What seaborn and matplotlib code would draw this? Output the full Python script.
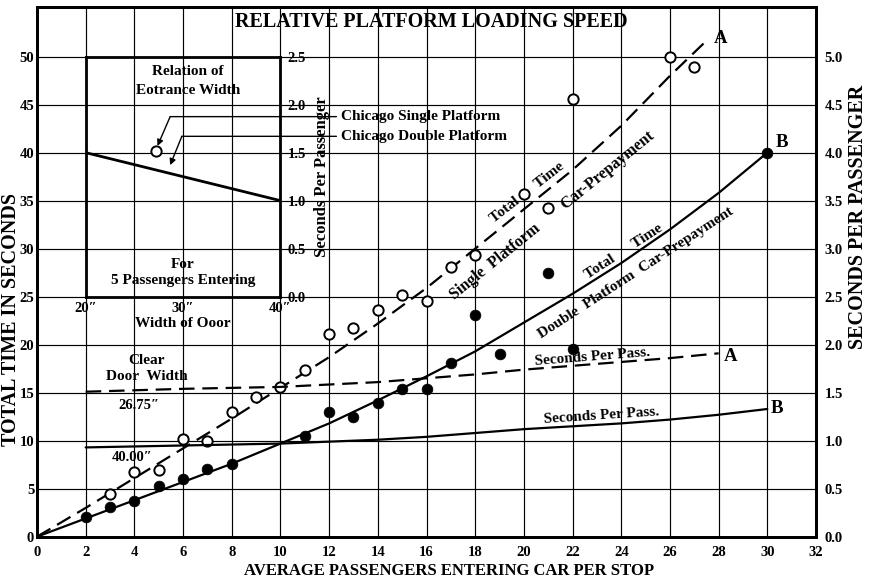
import numpy as np
import pandas as pd
import seaborn as sns
import matplotlib.pyplot as plt

sns.set_theme(style="white")
plt.rcParams['font.family'] = ['Liberation Serif', 'DejaVu Serif']
plt.rcParams['font.weight'] = 'bold'

# ---------------- data ----------------
single_x = [3, 4, 5, 6, 7, 8, 9, 10, 11, 12, 13, 14, 15, 16, 17, 18, 20, 21, 22, 26, 27]
single_y = [4.4, 6.7, 6.9, 10.2, 10.0, 13.0, 14.5, 15.6, 17.4, 21.1, 21.7, 23.6, 25.2, 24.5,
            28.1, 29.3, 35.7, 34.2, 45.6, 50.0, 48.9]

double_x = [2, 3, 4, 5, 6, 7, 8, 11, 12, 13, 14, 15, 16, 17, 18, 19, 21, 22, 30]
double_y = [2.0, 3.1, 3.75, 5.3, 6.0, 7.1, 7.6, 10.5, 13.0, 12.5, 13.9, 15.4, 15.4, 18.1,
            23.1, 19.0, 27.5, 19.5, 40.0]

total_A_x = [0, 2, 4, 6, 8, 10, 12, 14, 16, 18, 20, 22, 24, 26, 27.6]
total_A_y = [0, 3.0, 6.1, 9.2, 12.3, 15.5, 18.7, 22.2, 25.9, 30.0, 34.1, 38.2, 42.8, 48.0, 51.9]

total_B_x = [0, 2, 4, 6, 8, 10, 12, 14, 16, 18, 20, 22, 24, 26, 28, 30]
total_B_y = [0, 1.9, 3.8, 5.7, 7.6, 9.7, 11.8, 14.2, 16.7, 19.3, 22.3, 25.3, 28.5, 32.0, 35.8, 40.0]

spp_A_x = [2, 6, 10, 14, 16, 18, 20, 22, 24, 26, 28]
spp_A_y = [1.51, 1.54, 1.56, 1.61, 1.65, 1.69, 1.74, 1.78, 1.82, 1.86, 1.91]

spp_B_x = [2, 6, 10, 14, 16, 18, 20, 22, 24, 26, 28, 30]
spp_B_y = [0.93, 0.95, 0.97, 1.01, 1.04, 1.08, 1.12, 1.15, 1.18, 1.22, 1.27, 1.33]

door_width = [20, 40]
door_spp = [1.5, 1.0]
chicago_single_w = [27.2]
chicago_single_spp = [1.52]

x_ticks = list(range(0, 33, 2))
y_ticks = list(range(0, 51, 5))
y2_ticks = [i * 0.5 for i in range(11)]
inset_x_ticks = [20, 30, 40]
inset_x_labels = ['20\u2033', '30\u2033', '40\u2033']
inset_y_ticks = [0.0, 0.5, 1.0, 1.5, 2.0, 2.5]

# ---------------- figure ----------------
fig = plt.figure(figsize=(8.71, 5.80), dpi=100)
ax = fig.add_axes([37 / 871, 1 - 536.7 / 580, (816 - 37) / 871, (536.7 - 6.7) / 580])
ax.set_facecolor('white')
ax.set_xlim(0, 32)
ax.set_ylim(0, 55.2)
ax.set_xticks(x_ticks)
ax.set_yticks(y_ticks)
ax.grid(True, color='black', linewidth=0.85)
ax.set_axisbelow(True)
for s in ax.spines.values():
    s.set_color('black')
    s.set_linewidth(2.0)
ax.tick_params(axis='both', length=0, labelsize=10.5, colors='black')
ax.tick_params(axis='x', pad=7)
ax.tick_params(axis='y', pad=2)
for lab in ax.get_xticklabels() + ax.get_yticklabels():
    lab.set_fontweight('bold')

ax2 = ax.twinx()
ax2.set_ylim(0, 5.52)
ax2.set_yticks(y2_ticks)
ax2.set_yticklabels([f"{v:.1f}" for v in y2_ticks])
ax2.tick_params(axis='y', length=0, labelsize=10.5, pad=6, colors='black')
for s in ax2.spines.values():
    s.set_color('black')
    s.set_linewidth(2.0)
ax2.grid(False)

lw = 1.6
# total time curves
sns.lineplot(x=total_A_x, y=total_A_y, ax=ax, color='black', linewidth=lw, sort=False, estimator=None)
ax.lines[-1].set_dashes([7, 3.5])
sns.lineplot(x=total_B_x, y=total_B_y, ax=ax, color='black', linewidth=lw, sort=False, estimator=None)
# seconds per passenger curves
sns.lineplot(x=spp_A_x, y=spp_A_y, ax=ax2, color='black', linewidth=lw, sort=False, estimator=None)
ax2.lines[-1].set_dashes([7, 3.5])
sns.lineplot(x=spp_B_x, y=spp_B_y, ax=ax2, color='black', linewidth=lw, sort=False, estimator=None)

# data points
sns.scatterplot(x=single_x, y=single_y, ax=ax, marker='o', s=55, facecolor='white',
                edgecolor='black', linewidth=1.4, zorder=5)
sns.scatterplot(x=double_x, y=double_y, ax=ax, marker='o', s=60, color='black',
                edgecolor='black', linewidth=0.5, zorder=5)

# ---------------- inset ----------------
ins = ax.inset_axes([2, 25, 8, 25], transform=ax.transData)
ins.set_xlim(20, 40)
ins.set_ylim(0, 2.5)
ins.patch.set_alpha(0)
for s in ins.spines.values():
    s.set_color('black')
    s.set_linewidth(2.0)
ins.set_xticks(inset_x_ticks)
ins.set_xticklabels(inset_x_labels)
ins.yaxis.tick_right()
ins.yaxis.set_label_position('right')
ins.set_yticks(inset_y_ticks)
ins.set_yticklabels([f"{v:.1f}" for v in inset_y_ticks])
ins.tick_params(axis='both', length=0, labelsize=10.5, colors='black')
ins.tick_params(axis='x', pad=4)
ins.tick_params(axis='y', pad=5)
ins.grid(False)
ins.set_ylabel('Seconds Per Passenger', fontsize=12, fontweight='bold', labelpad=6, color='black')
ins.set_xlabel('Width of Ooor', fontsize=11, fontweight='bold', labelpad=1, color='black')
sns.lineplot(x=door_width, y=door_spp, ax=ins, color='black', linewidth=2.0, estimator=None)
sns.scatterplot(x=chicago_single_w, y=chicago_single_spp, ax=ins, marker='o', s=55,
                facecolor='white', edgecolor='black', linewidth=1.4, zorder=5)

# ---------------- annotations ----------------
tkw = dict(color='black', fontweight='bold')
ax.text(16.2, 53.6, 'RELATIVE PLATFORM LOADING SPEED', ha='center', va='center', fontsize=14.5, **tkw)
ax.text(6.2, 48.4, 'Relation of', ha='center', va='center', fontsize=11, **tkw)
ax.text(6.2, 46.5, 'Eotrance Width', ha='center', va='center', fontsize=11, **tkw)
ax.text(6.0, 28.3, 'For', ha='center', va='center', fontsize=11, **tkw)
ax.text(6.0, 26.7, '5 Passengers Entering', ha='center', va='center', fontsize=11, **tkw)
ax.text(4.5, 18.4, 'Clear', ha='center', va='center', fontsize=11, **tkw)
ax.text(4.5, 16.7, 'Door  Width', ha='center', va='center', fontsize=11, **tkw)
ax.text(4.2, 13.7, '26.75\u2033', ha='center', va='center', fontsize=10.5, **tkw)
ax.text(3.9, 8.3, '40.00\u2033', ha='center', va='center', fontsize=10.5, **tkw)

ax.text(12.5, 43.75, 'Chicago Single Platform', ha='left', va='center', fontsize=11, **tkw)
ax.text(12.5, 41.7, 'Chicago Double Platform', ha='left', va='center', fontsize=11, **tkw)
ax.annotate('', xy=(12.3, 43.75), xytext=(5.47, 43.75),
            arrowprops=dict(arrowstyle='-', color='black', lw=1.0, shrinkA=0, shrinkB=0))
ax.annotate('', xy=(4.95, 40.7), xytext=(5.47, 43.75),
            arrowprops=dict(arrowstyle='-|>', color='black', lw=1.0, mutation_scale=9, shrinkA=0, shrinkB=0))
ax.annotate('', xy=(12.3, 41.7), xytext=(5.95, 41.7),
            arrowprops=dict(arrowstyle='-', color='black', lw=1.0, shrinkA=0, shrinkB=0))
ax.annotate('', xy=(5.47, 38.7), xytext=(5.95, 41.7),
            arrowprops=dict(arrowstyle='-|>', color='black', lw=1.0, mutation_scale=9, shrinkA=0, shrinkB=0))

ax.text(28.1, 51.9, 'A', ha='center', va='center', fontsize=13.5, **tkw)
ax.text(30.6, 41.1, 'B', ha='center', va='center', fontsize=13.5, **tkw)
ax.text(28.5, 18.75, 'A', ha='center', va='center', fontsize=13.5, **tkw)
ax.text(30.4, 13.4, 'B', ha='center', va='center', fontsize=13.5, **tkw)

ax.text(22.8, 18.75, 'Seconds Per Pass.', ha='center', va='center', fontsize=11,
        rotation=4.5, rotation_mode='anchor', **tkw)
ax.text(23.2, 12.6, 'Seconds Per Pass.', ha='center', va='center', fontsize=11,
        rotation=3.8, rotation_mode='anchor', **tkw)
ax.text(20.15, 35.8, 'Total      Time', ha='center', va='center', fontsize=11,
        rotation=38, rotation_mode='anchor', **tkw)
ax.text(21.15, 33.45, 'Single  Platform        Car-Prepayment', ha='center', va='center', fontsize=11.5,
        rotation=39, rotation_mode='anchor', **tkw)
ax.text(24.1, 29.7, 'Total      Time', ha='center', va='center', fontsize=11,
        rotation=33, rotation_mode='anchor', **tkw)
ax.text(24.6, 27.5, 'Double  Platform  Car-Prepayment', ha='center', va='center', fontsize=11,
        rotation=33, rotation_mode='anchor', **tkw)

# axis titles
fig.text(449 / 871, 1 - 571 / 580, 'AVERAGE PASSENGERS ENTERING CAR PER STOP', ha='center', va='center',
         fontsize=12, **tkw)
fig.text(11 / 871, 1 - 320 / 580, 'TOTAL TIME IN SECONDS', ha='center', va='center', rotation=90,
         fontsize=14.5, **tkw)
fig.text(858 / 871, 1 - 217 / 580, 'SECONDS PER PASSENGER', ha='center', va='center', rotation=90,
         fontsize=14.5, **tkw)

fig.savefig('out.png', dpi=100, facecolor='white')
